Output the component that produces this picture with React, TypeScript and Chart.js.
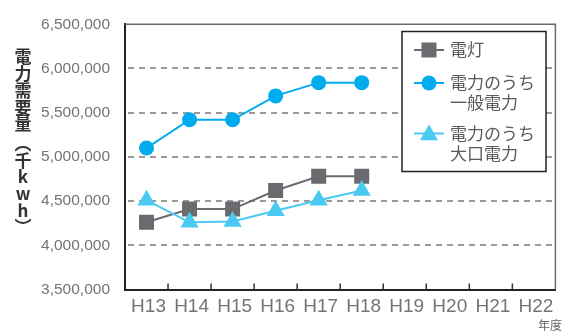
import React, { useEffect, useRef } from 'react';
import { Chart, registerables } from 'chart.js';

Chart.register(...registerables);

const categories = ['H13', 'H14', 'H15', 'H16', 'H17', 'H18', 'H19', 'H20', 'H21', 'H22'];
const dentou = [4260000, 4410000, 4410000, 4620000, 4780000, 4780000, null, null, null, null];
const ippan = [5100000, 5420000, 5420000, 5690000, 5840000, 5840000, null, null, null, null];
const ooguchi = [4510000, 4260000, 4270000, 4390000, 4510000, 4620000, null, null, null, null];
const yTicksMin = 3500000;
const yTicksMax = 6500000;
const yStep = 500000;
const yTitleChars = ['電', '力', '需', '要', '量', '︵', '千', 'k', 'w', 'h', '︶'];
const xUnit = '年度';

const GRAY = '#6a6b6f';
const BLUE = '#00aced';
const LIGHT = '#4ac9f2';

const legendItems = [
  { lines: ['電灯'], color: GRAY, shape: 'rect' },
  { lines: ['電力のうち', '一般電力'], color: BLUE, shape: 'circle' },
  { lines: ['電力のうち', '大口電力'], color: LIGHT, shape: 'triangle' },
];

const CJK = '"Noto Sans CJK JP", "Noto Sans", sans-serif';
const TICKFONT = '"Liberation Sans", Arial, sans-serif';

function drawMarker(ctx: CanvasRenderingContext2D, shape: string, x: number, y: number, color: string) {
  ctx.save();
  ctx.fillStyle = color;
  ctx.beginPath();
  if (shape === 'rect') {
    ctx.rect(x - 7.5, y - 7.5, 15, 15);
  } else if (shape === 'circle') {
    ctx.arc(x, y, 7.5, 0, Math.PI * 2);
  } else {
    const r = 10.5;
    ctx.moveTo(x, y - r);
    ctx.lineTo(x + r * 0.866, y + r * 0.5);
    ctx.lineTo(x - r * 0.866, y + r * 0.5);
    ctx.closePath();
  }
  ctx.fill();
  ctx.restore();
}

const decor = {
  id: 'decor',
  beforeDatasetsDraw(chart: any) {
    const { ctx, chartArea } = chart;
    const xs = chart.scales.x;
    const ys = chart.scales.y;
    ctx.save();
    // dashed horizontal grid lines at the y scale's ticks
    ctx.strokeStyle = '#7a7a7a';
    ctx.lineWidth = 1.6;
    ctx.setLineDash([6, 5]);
    ys.ticks.forEach((t: any) => {
      if (t.value === yTicksMin || t.value === yTicksMax) return;
      const y = Math.round(ys.getPixelForValue(t.value));
      ctx.beginPath();
      ctx.moveTo(chartArea.left + 3, y);
      ctx.lineTo(chartArea.right, y);
      ctx.stroke();
    });
    ctx.setLineDash([]);
    // top & right frame
    ctx.strokeStyle = '#6a6a6a';
    ctx.lineWidth = 1.5;
    ctx.beginPath();
    ctx.moveTo(chartArea.left, chartArea.top);
    ctx.lineTo(chartArea.right, chartArea.top);
    ctx.lineTo(chartArea.right, chartArea.bottom);
    ctx.stroke();
    // inward tick marks at category boundaries
    ctx.strokeStyle = '#333';
    ctx.lineWidth = 1.5;
    for (let i = 0; i < categories.length - 1; i++) {
      const x = (xs.getPixelForValue(i) + xs.getPixelForValue(i + 1)) / 2;
      ctx.beginPath();
      ctx.moveTo(x, chartArea.bottom);
      ctx.lineTo(x, chartArea.bottom - 6);
      ctx.stroke();
    }
    ctx.restore();
  },
  afterDraw(chart: any) {
    const { ctx } = chart;
    ctx.save();
    // legend box
    const bx = 402, by = 31.5, bw = 144, bh = 140;
    ctx.fillStyle = '#fff';
    ctx.fillRect(bx, by, bw, bh);
    ctx.strokeStyle = '#222';
    ctx.lineWidth = 1.5;
    ctx.strokeRect(bx, by, bw, bh);
    const rowY = [50, 83, 133.5];
    ctx.font = '17px ' + CJK;
    ctx.textBaseline = 'middle';
    ctx.textAlign = 'left';
    legendItems.forEach((it, i) => {
      const y = rowY[i];
      ctx.strokeStyle = it.color;
      ctx.lineWidth = 2;
      ctx.beginPath();
      ctx.moveTo(414, y);
      ctx.lineTo(444, y);
      ctx.stroke();
      drawMarker(ctx, it.shape, 429, it.shape === 'triangle' ? y + 1.5 : y, it.color);
      ctx.fillStyle = '#5a5a5a';
      it.lines.forEach((ln, j) => {
        ctx.fillText(ln, 450, y + j * 20);
      });
    });
    // y title, stacked vertically
    ctx.fillStyle = '#333';
    ctx.font = 'bold 17px ' + CJK;
    ctx.textAlign = 'center';
    ctx.textBaseline = 'middle';
    yTitleChars.forEach((c, i) => {
      const y = 57 + i * 16.7 + (i >= 5 ? 3 : 0);
      ctx.fillText(c, 23, y);
    });
    // x unit
    ctx.fillStyle = '#666';
    ctx.font = '12px ' + CJK;
    ctx.textAlign = 'center';
    ctx.fillText(xUnit, 550, 325);
    ctx.restore();
  },
};

export default function App() {
  const ref = useRef<HTMLCanvasElement | null>(null);
  useEffect(() => {
    if (!ref.current) return;
    const chart = new Chart(ref.current, {
      type: 'line',
      data: {
        labels: categories,
        datasets: [
          {
            label: '電力のうち一般電力',
            data: ippan,
            borderColor: BLUE,
            backgroundColor: BLUE,
            borderWidth: 2,
            pointStyle: 'circle',
            pointRadius: 7.5,
            pointBorderWidth: 0,
          },
          {
            label: '電力のうち大口電力',
            data: ooguchi,
            borderColor: LIGHT,
            backgroundColor: LIGHT,
            borderWidth: 2,
            pointStyle: 'triangle',
            pointRadius: 10.5,
            pointBorderWidth: 0,
          },
          {
            label: '電灯',
            data: dentou,
            borderColor: GRAY,
            backgroundColor: GRAY,
            borderWidth: 2,
            pointStyle: 'rect',
            pointRadius: 10.6,
            pointBorderWidth: 0,
          },
        ],
      },
      options: {
        animation: false,
        responsive: false,
        maintainAspectRatio: false,
        layout: { padding: { top: 20, right: 4, left: 0, bottom: 0 } },
        plugins: { legend: { display: false }, tooltip: { enabled: false } },
        scales: {
          x: {
            offset: true,
            grid: { display: false, drawTicks: false },
            border: { display: true, color: '#222', width: 2 },
            ticks: {
              color: '#747474',
              font: { family: TICKFONT, size: 19 },
              padding: 6,
              labelOffset: 2,
              maxRotation: 0,
              autoSkip: false,
            },
            afterFit: (s: any) => { s.height = 41.5; },
          },
          y: {
            min: yTicksMin,
            max: yTicksMax,
            grid: { drawOnChartArea: false, drawTicks: false },
            border: { display: true, color: '#222', width: 2 },
            ticks: {
              stepSize: yStep,
              color: '#747474',
              font: { family: TICKFONT, size: 15.5 },
              padding: 15,
              callback: (v: any) => Number(v).toLocaleString('en-US'),
            },
            afterFit: (s: any) => { s.width = 125; },
          },
        },
      },
      plugins: [decor],
    });
    return () => chart.destroy();
  }, []);
  return (
    <div style={{ position: 'absolute', left: 0, top: 0, width: 566, height: 331, background: '#fff' }}>
      <canvas ref={ref} width={566} height={331} />
    </div>
  );
}
